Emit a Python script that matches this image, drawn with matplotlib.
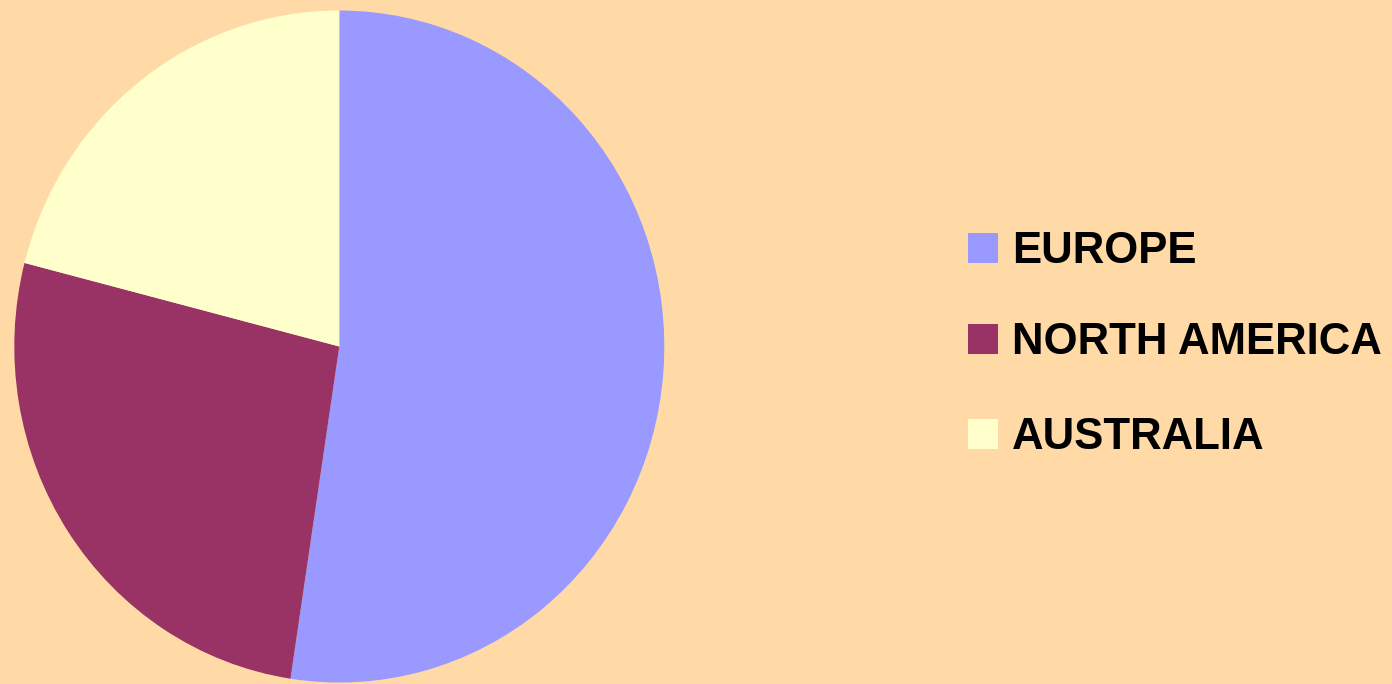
import matplotlib
matplotlib.use("Agg")
import matplotlib.pyplot as plt
from matplotlib.patches import Rectangle

W, H = 1392, 684
DPI = 100

regions = ["EUROPE", "NORTH AMERICA", "AUSTRALIA"]
shares = [52.4, 26.6, 21.0]
colors = ["#9999FF", "#993366", "#FFFFCC"]
background = "#FFDAA6"

fig = plt.figure(figsize=(W / DPI, H / DPI), dpi=DPI, facecolor=background)

# pie is slightly taller than wide in the reference, so no equal aspect
cx, cy, rx, ry = 339.3, 346.5, 325, 336
ax = fig.add_axes([(cx - rx) / W, (H - cy - ry) / H, 2 * rx / W, 2 * ry / H])
ax.pie(shares, colors=colors, startangle=90, counterclock=False,
       wedgeprops=dict(linewidth=0))
ax.set_aspect("auto")
ax.set_xlim(-1, 1)
ax.set_ylim(-1, 1)
ax.axis("off")

# legend drawn by hand: square + bold label per row
baselines = [263.5, 354, 449]
for label, color, base in zip(regions, colors, baselines):
    fig.add_artist(Rectangle((968 / W, (H - base) / H), 30 / W, 30 / H,
                             transform=fig.transFigure, facecolor=color,
                             edgecolor="none"))
    fig.text(1012 / W, (H - base) / H, label, fontsize=31.5, fontweight="bold",
             family="Liberation Sans", va="baseline", ha="left", color="black")

fig.savefig("out.png", dpi=DPI, facecolor=background)
